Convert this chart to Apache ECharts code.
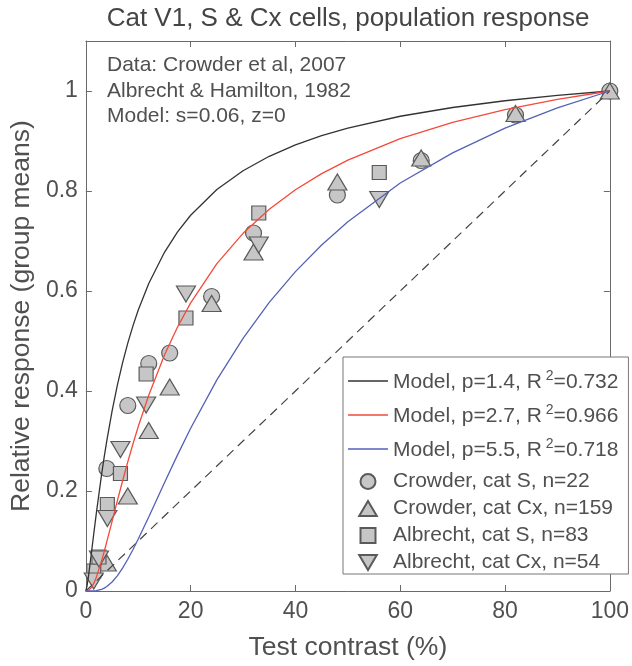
<!DOCTYPE html>
<html><head><meta charset="utf-8">
<script src="https://cdn.jsdelivr.net/npm/echarts@6/dist/echarts.min.js"></script>
<style>html,body{margin:0;padding:0;background:#fff}#c{width:632px;height:666px}</style>
</head><body><div id="c"></div>
<script>
// ---- data ----
const titleText = 'Cat V1, S & Cx cells, population response';
const xName = 'Test contrast (%)';
const yName = 'Relative response (group means)';
const notes = ['Data: Crowder et al, 2007', 'Albrecht & Hamilton, 1982', 'Model: s=0.06, z=0'];

const curveX = [0,0.25,0.5,0.75,1,1.5,2,3,3.5,4,5,6,7,8,9,10,12,15,17.5,20,25,30,35,40,45,50,60,70,80,90,100];
const modelBlack = [0,0.0120,0.0299,0.0501,0.0711,0.1140,0.1558,0.2331,0.2681,0.3009,0.3598,0.4111,0.4561,0.4957,0.5307,0.5619,0.6150,0.6774,0.7182,0.7515,0.8029,0.8405,0.8694,0.8922,0.9106,0.9258,0.9495,0.9670,0.9805,0.9913,1];
const modelRed = [0,0.0002,0.0012,0.0031,0.0061,0.0152,0.0277,0.0603,0.0790,0.0986,0.1392,0.1801,0.2200,0.2583,0.2946,0.3290,0.3916,0.4719,0.5280,0.5763,0.6548,0.7153,0.7635,0.8025,0.8348,0.8617,0.9049,0.9373,0.9628,0.9832,1];
const modelBlue = [0,0,0,0,0,0.0002,0.0007,0.0033,0.0057,0.0089,0.0180,0.0304,0.0458,0.0635,0.0830,0.1039,0.1481,0.2165,0.2723,0.3254,0.4222,0.5053,0.5771,0.6387,0.6921,0.7385,0.8159,0.8763,0.9256,0.9661,1];
const modelNames = ['Model, p=1.4, R²=0.732', 'Model, p=2.7, R²=0.966', 'Model, p=5.5, R²=0.718'];

const diagX = [0, 100];
const diagY = [0, 1];

const crowderX = [4,8,12,16,24,32,48,64,82,100];
const crowderS = [0.245,0.371,0.455,0.476,0.589,0.716,0.792,0.861,0.952,1];
const crowderCx = [0.056,0.190,0.321,0.408,0.575,0.678,0.818,0.866,0.955,1];
const albrechtX = [1.5,2.5,4.1,6.6,11.5,19.1,33,56];
const albrechtS = [0.040,0.068,0.173,0.235,0.434,0.546,0.756,0.837];
const albrechtCx = [0.020,0.064,0.145,0.283,0.372,0.594,0.692,0.783];
const scatterNames = ['Crowder, cat S, n=22', 'Crowder, cat Cx, n=159', 'Albrecht, cat S, n=83', 'Albrecht, cat Cx, n=54'];

const xTicks = [0,20,40,60,80,100];
const yTicks = [0,0.2,0.4,0.6,0.8,1];

// ---- chart ----
const FONT = '"Liberation Sans", Arial, sans-serif';
const TXT = '#505050';
const AX = '#6a6a6a';
const pair = (xs, ys) => xs.map((x, i) => [x, ys[i]]);
const MFILL = '#c6c6c6', MEDGE = '#5a5a5a';
const upTri = 'path://M10,0 L20,17 L0,17 Z';
const downTri = 'path://M0,0 L20,0 L10,17 Z';
const square = 'path://M0,0 L14,0 L14,14 L0,14 Z';
const lineIcon = 'path://M0,0 L40,0 L40,1.6 L0,1.6 Z';

const chart = echarts.init(document.getElementById('c'), null, {renderer: 'canvas'});

const axisCommon = {
  axisLine: {show: true, onZero: false, lineStyle: {color: AX, width: 1}},
  axisTick: {show: true, inside: true, length: 6, lineStyle: {color: AX}},
  splitLine: {show: false}
};

const lineSeries = (name, ys, color) => ({
  name, type: 'line', data: pair(curveX, ys), symbol: 'none', showSymbol: false,
  lineStyle: {color, width: 1.3}, itemStyle: {color}, z: 4, silent: true
});
const scat = (name, xs, ys, symbol, size) => ({
  name, type: 'scatter', data: pair(xs, ys), symbol, symbolSize: size, symbolKeepAspect: false,
  itemStyle: {color: MFILL, borderColor: MEDGE, borderWidth: 1.2, opacity: 1}, z: 2
});

const legendIcons = [lineIcon, lineIcon, lineIcon, 'circle', upTri, square, downTri];

const option = {
  animation: false,
  backgroundColor: '#fff',
  title: {
    text: titleText, left: 348, top: 6, textAlign: 'center', padding: 0,
    textStyle: {fontFamily: FONT, fontSize: 26, fontWeight: 'normal', color: '#444'}
  },
  grid: {left: 84, right: 20, top: 41, bottom: 73, containLabel: false},
  xAxis: [
    Object.assign({}, axisCommon, {
      type: 'value', min: 0, max: 100, interval: 20, position: 'bottom',
      name: xName, nameLocation: 'middle', nameGap: 43,
      nameTextStyle: {fontFamily: FONT, fontSize: 26.5, color: TXT},
      axisLabel: {fontFamily: FONT, fontSize: 23, color: TXT, margin: 9,
        formatter: v => xTicks.includes(v) ? String(v) : ''}
    }),
    Object.assign({}, axisCommon, {
      type: 'value', min: 0, max: 100, interval: 20, position: 'top', axisLabel: {show: false}
    })
  ],
  yAxis: [
    Object.assign({}, axisCommon, {
      type: 'value', min: 0, max: 1.1, interval: 0.2, position: 'left',
      name: yName, nameLocation: 'middle', nameGap: 35,
      nameTextStyle: {fontFamily: FONT, fontSize: 26.5, color: TXT},
      axisLabel: {fontFamily: FONT, fontSize: 23, color: TXT, margin: 8, showMaxLabel: false,
        formatter: v => yTicks.some(t => Math.abs(t - v) < 1e-9) ? String(+v.toFixed(1)) : ''}
    }),
    Object.assign({}, axisCommon, {
      type: 'value', min: 0, max: 1.1, interval: 0.2, position: 'right', axisLabel: {show: false}
    })
  ],
  legend: {
    orient: 'vertical', left: 343, top: 357,
    padding: [12, 10, 1, 5],
    itemWidth: 40, itemHeight: 15, itemGap: 6,
    symbolKeepAspect: true,
    backgroundColor: '#fff', borderColor: '#777', borderWidth: 1,
    data: modelNames.concat(scatterNames).map((n, i) => ({name: n, icon: legendIcons[i]})),
    textStyle: {
      fontFamily: FONT, fontSize: 21, color: TXT,
      rich: {
        a: {fontFamily: FONT, fontSize: 21, color: TXT, lineHeight: 24, verticalAlign: 'bottom'},
        s: {fontFamily: FONT, fontSize: 14, color: TXT, lineHeight: 14, padding: [0, 0, 14, 4], verticalAlign: 'top'},
        b: {fontFamily: FONT, fontSize: 21, color: TXT, lineHeight: 23}
      }
    },
    formatter: function (name) {
      if (name.indexOf('²') >= 0) {
        const parts = name.split('²');
        return '{a|' + parts[0] + '}{s|2}{a|' + parts[1] + '}';
      }
      return '{b|' + name + '}';
    }
  },
  graphic: notes.map((t, i) => ({
    type: 'text', left: 107, top: 55 + i * 25.5, silent: true,
    style: {text: t, fontFamily: FONT, fontSize: 21, fill: TXT}
  })),
  series: [
    scat(scatterNames[0], crowderX, crowderS, 'circle', 16),
    scat(scatterNames[1], crowderX, crowderCx, upTri, [19, 16]),
    scat(scatterNames[2], albrechtX, albrechtS, square, 14),
    scat(scatterNames[3], albrechtX, albrechtCx, downTri, [19, 16]),
    {
      name: 'unity', type: 'line', data: pair(diagX, diagY), symbol: 'none',
      lineStyle: {color: '#444', width: 1.2, type: [9, 6]}, z: 3, silent: true
    },
    lineSeries(modelNames[0], modelBlack, '#333333'),
    lineSeries(modelNames[1], modelRed, '#f4493b'),
    lineSeries(modelNames[2], modelBlue, '#5461b6')
  ]
};
chart.setOption(option);
</script></body></html>
